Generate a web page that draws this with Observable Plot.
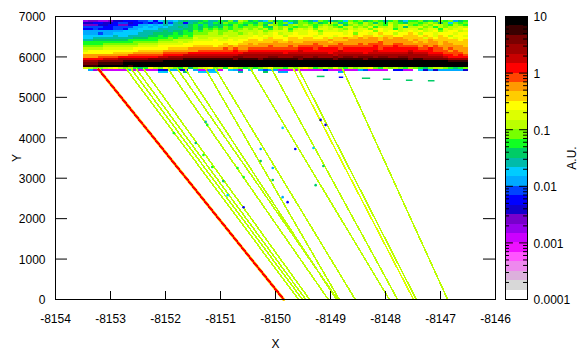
<!DOCTYPE html>
<html><head><meta charset="utf-8">
<script src="https://cdn.jsdelivr.net/npm/d3@7"></script>
<script src="https://cdn.jsdelivr.net/npm/@observablehq/plot@0.6"></script>
<style>
body{margin:0;background:#fff}
#c{position:relative;width:588px;height:354px;overflow:hidden}
#c svg{position:absolute;left:0;top:0;background:transparent}
</style></head><body><div id="c"></div>
<script>
const palette = ["#ffffff","#d8d8d8","#dcb0dc","#ee88ee","#ff55ff","#ee11ff","#cc00ff","#9900ee","#7700cc","#1100cc",
"#0000ff","#0044ff","#00aaff","#00ccff","#00bbaa","#00cc66","#11ff22","#77ff00","#bbff00","#ddff00",
"#ffff00","#ffcc00","#ff9900","#ff4400","#ff0000","#c80000","#a00000","#7a0000","#3a0000","#000000"];
const codes = "0123456789abcdefghijklmnopqrst";
const xTicks = [-8154,-8153,-8152,-8151,-8150,-8149,-8148,-8147,-8146];
const yTicks = [0,1000,2000,3000,4000,5000,6000,7000];
const barLabels = [0.0001,0.001,0.01,0.1,1,10];
const barMinor = [2,3,4,5,6,7,8,9];
const heatLeft = -8153.49, heatColumn = 0.0909, heatTop = 6912, heatRow = 53;
const heatRows = [
"78877899aaa bbcadecdefe efgeegfheih fgedhfgcgfh gfchgefgdhg hfghgeghfdg ghfgehghcfg",
"99aa99abb9a ababaebefae fgfegfhgghg gfhgehghdfh hghfgihegih gihfhgihgfh hghihfhdhgh",
"88899aa88aa ccdcdedeeef gegeffgfhgf hghfihgehih ihghihgifhi hihihgjhijh ghihjihgihg",
"bbbbaabbbbc cdcdcdeefef gfgfgfhghgh hhigfihihgh higijihgijh ihjgiijhifi ijhigihiiji",
"aabaaabbacc ddddeeeeeff gfhghghghhi hihigihjgij ijhjjijihji jjhjkjjgijj jhijjgjijjk",
"ccccccccddd deeeefeffgf hghhihhihii iijhijjjhjj jkjhjjjijkj jkkhkjkkijk jkijkhjkkij",
"cccbccddddd eeeffffgfgg hhhiihiiihi jijijkijjkj jkkikkkkjkh kkjklkkikkl kikkjkkkjkk",
"ddddddeddee eeffgfggghg iiiiiijiijj jkjkjkkikkk kkjkkkjkkkl kllkjllkkll lklkjlkikkj",
"ddeeeeeeeef ffgggghghhh jiijjjijjjj kkkjlkkkllk llkkljllmll mlmmlmlmmll lljlkllkjkk",
"eefffffffgg gggghhhiiii jjjjkjjkjkk llkllllklll lllllmlllmm mmmmlmmmmml mllmlllllkl",
"ggggggggggh hhhhiiiijij kkkkkkkkkkl lllllmllmll mmmmmlmmmmm mmmmnmmmmmm lmlmmlmllll",
"gggghhhhhhh iiiijjjjjkk kkkkkklkkll mlmmmmmmmmm mmnmmmmnmmm nmnnnmmnnmm mmmmmlmmlll",
"hhhhiiiiiii jjjjkkkkkkk llllkllmlmm mmmmnmmmnmn nnnnmnnnnnn nnnonnnonnn nmnmnmmmmml",
"iiiijjjjjjk kkkkkkllllm mmmmmmnmnmm nnnnnnnnnno oonoooonooo oooonoooooo onnonnmnmmm",
"jkkkkkkkkkk lllllmmmmmm mnnnnnnnonn oooooooooop ooooooopooo ooopoooooop oooonnnmnmm",
"kkkkkkllllm mmmmmnnnnno oooooooooop pppppppoppp pppppoppppp poppppppppq pppooonnnnm",
"mmmmmmmmmnn nnnnnoooopp pppppppppqq qqqqqqqqqqq qqqqqqpqqqq qqqqqqqqqqq qqqpppoonon",
"mmmnnnnoooo ooooppqqqqq qqqqqqqqrrq qqqqrrqqqrr qqrqqqrqrrq rrrqrrqqrrq qqqqqqpoooo",
"oooopppqqqq qqrrrrrrrss ssssssssrss ssrsssssssr ssssssrssss srssssssssr ssrrrrrqqqq",
"qqqrrrrrsss ssssstttttt ttttttttttt ttttttttttt ttttttttttt ttttttttttt tttttttssss",
"rrrsssssttt ttttttttttt ttttttttttt ttttttttttt ttttttttttt ttttttttttt ttttttttttt",
"sssttttttst ttttttttttt ttttttttttt ttttttttttt ttttttttttt ttttttttttt ttttttttttt",
"jihhijkihig fgkihkihgif hijkhigkihg hghikhhgihj kighihjhgih ijkhgihihgi hgfhiihgfgh",
"0c7766666c6 6666a9cc9a0 c66cc60dc70 d0cbcc66666 6666a666666 cb66660aa66 0d9c9ccccc9",
"00000000000 0000dd000f0 0dddd0000e0 000f00cc000 0000000c000 00000000000 00000000000"
];
const heatCells = heatRows.flatMap((row, r) => [...row.replace(/ /g, "")].map((ch, c) => ({
  x1: heatLeft + c * heatColumn, x2: heatLeft + (c + 1) * heatColumn,
  y1: heatTop - (r + 1) * heatRow, y2: heatTop - r * heatRow,
  level: codes.indexOf(ch)
}))).filter(d => d.level > 0);
const dashes = [
  {x1:-8149.24,x2:-8149.10,y:5518,level:15},{x1:-8148.84,x2:-8148.76,y:5497,level:10},
  {x1:-8148.42,x2:-8148.27,y:5473,level:15},{x1:-8148.04,x2:-8147.90,y:5448,level:15},
  {x1:-8147.62,x2:-8147.50,y:5423,level:15},{x1:-8147.22,x2:-8147.10,y:5411,level:15}
];
const lineTops    = [-8152.71,-8152.62,-8152.53,-8152.40,-8151.95,-8151.78,-8151.64,-8151.27,-8151.09,-8150.45,-8150.07,-8149.67,-8149.58,-8148.78];
const lineBottoms = [-8149.58,-8149.51,-8149.45,-8149.38,-8149.04,-8148.87,-8148.89,-8148.84,-8148.55,-8147.93,-8147.78,-8147.49,-8147.44,-8146.87];
const lineLevels  = [18,18,18,18,18,18,18,18,18,18,18,19,18,18];
const redTop = -8153.22, redBottom = -8149.85, lineTopY = 5700;
const speckX = [-8151.85,-8151.45,-8151.27,-8151.24,-8151.31,-8151.15,-8150.95,-8150.69,-8150.58,-8150.27,-8150.27,-8150.05,-8150.05,-8149.87,-8149.64,-8149.31,-8149.13,-8149.27,-8149.78,-8149.87,-8150.87,-8150.58,-8149.18,-8149.09];
const speckY = [4120,3872,4393,4319,3574,3276,2929,3251,3028,3723,3425,3251,2954,4244,3723,3748,3301,2829,2408,2532,2581,2283,4443,4319];
const speckL = [16,15,14,16,16,16,15,16,16,12,15,12,15,13,10,13,15,15,10,12,13,10,9,9];

const value = l => 10 ** (-4 + (l + 0.5) / 6);
const edge = i => 10 ** (-4 + i / 6);
const thresholds = d3.range(1, 30).map(edge);
const color = {type:"threshold", domain:thresholds, range:palette};
const font = {fontFamily:"Liberation Sans, Arial, sans-serif", fontSize:"12px", color:"#000"};

const lineRows = lineTops.flatMap((t, i) => [{id:i, x:t, y:lineTopY, v:value(lineLevels[i])},{id:i, x:lineBottoms[i], y:0, v:value(lineLevels[i])}]);
const redRows = [{x:redTop, y:lineTopY},{x:redBottom, y:0}];
const specks = speckX.map((x, i) => ({x, y:speckY[i], v:value(speckL[i])}));

const main = Plot.plot({
  width:588, height:354, marginLeft:55, marginRight:93, marginTop:16, marginBottom:55,
  style:font, color,
  x:{domain:[-8154,-8146], label:null},
  y:{domain:[0,7000], label:null},
  marks:[
    Plot.rect(heatCells,{x1:"x1",x2:"x2",y1:"y1",y2:"y2",fill:d=>value(d.level),shapeRendering:"crispEdges"}),
    Plot.line(lineRows,{x:"x",y:"y",z:"id",stroke:d=>d.v,strokeWidth:1.6,shapeRendering:"crispEdges"}),
    Plot.line(redRows,{x:"x",y:"y",stroke:"#ffcc00",strokeWidth:3}),
    Plot.line(redRows,{x:"x",y:"y",stroke:()=>value(24),strokeWidth:2,shapeRendering:"crispEdges"}),
    Plot.ruleY(dashes,{x1:"x1",x2:"x2",y:"y",stroke:d=>value(d.level),strokeWidth:1.5}),
    Plot.dot(specks,{x:"x",y:"y",fill:"v",r:1.3}),
    Plot.ruleX(xTicks,{insetTop:275,stroke:"#000"}),
    Plot.ruleX(xTicks,{insetBottom:275,stroke:"#000"}),
    Plot.ruleY(yTicks,{insetRight:428,stroke:"#000"}),
    Plot.ruleY(yTicks,{insetLeft:428,stroke:"#000"}),
    Plot.frame({stroke:"#000"}),
    Plot.axisX(xTicks,{anchor:"bottom",tickSize:0,tickPadding:15,tickFormat:d=>String(d),label:null}),
    Plot.axisY(yTicks,{anchor:"left",tickSize:0,tickPadding:10,dy:1,tickFormat:d=>String(d),label:null}),
    Plot.text(["X"],{frameAnchor:"bottom",dy:48,fontSize:12}),
    Plot.text(["Y"],{frameAnchor:"left",textAnchor:"middle",dx:-38,rotate:-90,fontSize:12})
  ]
});

const barRows = palette.map((p, i) => ({lo:edge(i), hi:edge(i + 1), v:value(i)}));
const minor = barLabels.slice(0, -1).flatMap(d => barMinor.map(m => d * m));
const bar = Plot.plot({
  width:588, height:354, marginLeft:505, marginRight:61, marginTop:16, marginBottom:55,
  style:font, color,
  x:{domain:[0,1], axis:null},
  y:{type:"log", domain:[0.0001,10], axis:null},
  marks:[
    Plot.rect(barRows,{x1:0,x2:1,y1:"lo",y2:"hi",fill:"v",shapeRendering:"crispEdges"}),
    Plot.ruleY(minor,{x1:0,x2:0.18,stroke:"#000"}),
    Plot.ruleY(minor,{x1:0.82,x2:1,stroke:"#000"}),
    Plot.ruleY(barLabels,{x1:0,x2:0.36,stroke:"#000"}),
    Plot.ruleY(barLabels,{x1:0.64,x2:1,stroke:"#000"}),
    Plot.frame({stroke:"#000"}),
    Plot.axisY(barLabels,{anchor:"right",tickSize:0,tickPadding:6,dy:1,tickFormat:d=>String(d),label:null}),
    Plot.text(["A.U."],{frameAnchor:"right",textAnchor:"middle",dx:45,rotate:-90,fontSize:12})
  ]
});
document.getElementById("c").append(main, bar);
</script></body></html>
